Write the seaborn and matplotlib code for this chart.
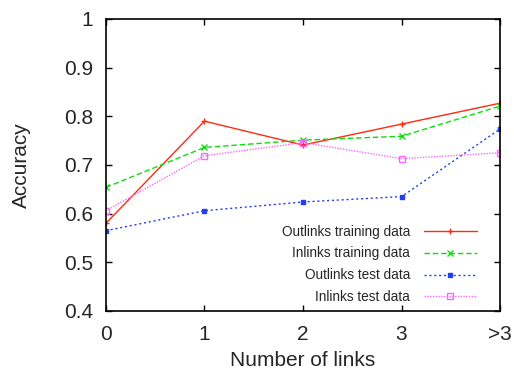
import pandas as pd
import matplotlib
matplotlib.use('Agg')
import matplotlib.pyplot as plt
import seaborn as sns

categories = ['0', '1', '2', '3', '>3']
outlinks_train = [0.580, 0.790, 0.741, 0.784, 0.827]
inlinks_train = [0.654, 0.736, 0.751, 0.759, 0.821]
outlinks_test = [0.565, 0.606, 0.624, 0.635, 0.774]
inlinks_test = [0.606, 0.719, 0.746, 0.713, 0.725]
series_names = ['Outlinks training data', 'Inlinks training data',
                'Outlinks test data', 'Inlinks test data']
series_vals = [outlinks_train, inlinks_train, outlinks_test, inlinks_test]

colors = ['#ff2a10', '#10dd10', '#2040f0', '#ff66ff']
styles = ['-', (0, (4, 2)), (0, (1.5, 2)), (0, (1, 1))]
marks = ['+', 'x', 's', 's']
msizes = [5, 4.5, 3.5, 4.5]

sns.set_style('ticks')
plt.rcParams['font.family'] = ['Liberation Sans', 'DejaVu Sans']

fig = plt.figure(figsize=(5.14, 3.72), dpi=100)
ax = fig.add_axes([0.206, 0.164, 0.767, 0.785])
for name, vals, c, ls, m, ms in zip(series_names, series_vals, colors, styles, marks, msizes):
    df = pd.DataFrame({'x': range(len(vals)), 'acc': vals})
    face = 'none' if name == 'Inlinks test data' else c
    sns.lineplot(data=df, x='x', y='acc', color=c, linestyle=ls, marker=m,
                 markersize=ms, markerfacecolor=face, markeredgecolor=c,
                 markeredgewidth=1.0, linewidth=1.0, label=name, ax=ax)

ax.set_xlim(0, 4)
ax.set_ylim(0.4, 1.0)
ax.set_xticks(range(len(categories)))
ax.set_xticklabels(categories)
ax.set_yticks([0.4, 0.5, 0.6, 0.7, 0.8, 0.9, 1.0])
ax.set_yticklabels(['0.4', '0.5', '0.6', '0.7', '0.8', '0.9', '1'])
ax.tick_params(direction='in', top=True, right=True, length=4, width=1,
               labelsize=15, color='black')
ax.tick_params(axis='y', pad=9)
ax.tick_params(axis='x', pad=10)
for s in ax.spines.values():
    s.set_linewidth(1.2)
    s.set_color('black')
ax.set_xlabel('Number of links', fontsize=15, labelpad=5)
ax.set_ylabel('Accuracy', fontsize=15, labelpad=24)

ax.legend(loc='lower right', bbox_to_anchor=(0.958, 0.0), frameon=False,
          markerfirst=False, fontsize=9.8, handlelength=3.9,
          labelspacing=0.58, borderaxespad=0.1, handletextpad=1.0)

fig.savefig('out.png', dpi=100)
